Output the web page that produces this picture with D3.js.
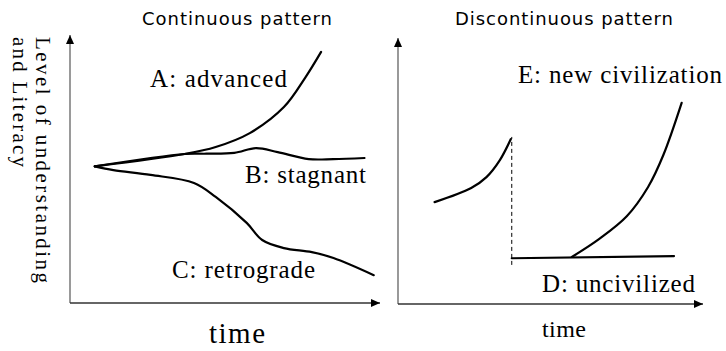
<!DOCTYPE html>
<html>
<head>
<meta charset="utf-8">
<script src="https://cdn.jsdelivr.net/npm/d3@7"></script>
<style>
	body { margin: 0; background: #fff; }
</style>
</head>
<body>
<svg id="chart" width="726" height="351"></svg>
<script>

// values: [time, level], both on a 0-100 scale
let advanced    = [[8, 51], [37, 55.6], [47, 58.2], [58, 63.4], [69, 73.1], [76, 84.3], [81, 93.7]];
let stagnant    = [[8, 51], [37, 55.6], [44, 55.7], [53, 56], [60, 57.8], [67, 56.3], [77, 53.7], [85, 53.7], [95, 54.1]];
let retrograde  = [[8, 51], [14, 49.6], [26, 47.8], [40, 44.8], [47, 39.6], [57, 29.9], [62, 23.5], [69, 20.5], [78, 19], [85, 16.8], [98, 10.4]];

let oldCivilization = [[12, 38.3], [24, 43.6], [29, 47.7], [33.4, 54.1], [37, 62]];
let uncivilized     = [[37.3, 17.2], [90.5, 18]];
let newCivilization = [[57, 17.7], [66, 24.5], [75, 33], [82, 44], [87, 56], [93, 75.6]];
let breakPoint      = [37.3, 14.7, 62.8];   // time, bottom, top of the dashed line

let panelTitles = ['Continuous pattern', 'Discontinuous pattern'];
let yLabelLines = ['Level of understanding', 'and Literacy'];
let xLabel = 'time';

let svg = d3.select('#chart');

let serif = '"Liberation Serif", "Times New Roman", serif';
let sans = '"DejaVu Sans", Verdana, sans-serif';

svg.append('defs').append('marker')
	.attr('id', 'arrow')
	.attr('viewBox', '0 0 9 8')
	.attr('refX', 9)
	.attr('refY', 4)
	.attr('markerWidth', 9)
	.attr('markerHeight', 8)
	.attr('markerUnits', 'userSpaceOnUse')
	.attr('orient', 'auto')
	.append('path')
	.attr('d', 'M0,0L9,4L0,8Z')
	.attr('fill', '#000');

// left panel
let xL = d3.scaleLinear().domain([0, 100]).range([70, 380]);
let yL = d3.scaleLinear().domain([0, 100]).range([303, 35]);

// right panel
let xR = d3.scaleLinear().domain([0, 100]).range([398, 703]);
let yR = d3.scaleLinear().domain([0, 100]).range([304, 38]);

function drawAxes(x, y)
{
	svg.append('line')
		.attr('x1', x(0)).attr('y1', y(0))
		.attr('x2', x(0)).attr('y2', y(100))
		.attr('stroke', '#808080')
		.attr('stroke-width', 1.6)
		.attr('marker-end', 'url(#arrow)');

	svg.append('line')
		.attr('x1', x(0)).attr('y1', y(0))
		.attr('x2', x(100)).attr('y2', y(0))
		.attr('stroke', '#333')
		.attr('stroke-width', 1.6)
		.attr('marker-end', 'url(#arrow)');
}

drawAxes(xL, yL);
drawAxes(xR, yR);

function drawCurve(data, x, y)
{
	let line = d3.line()
		.x(d => x(d[0]))
		.y(d => y(d[1]))
		.curve(d3.curveCatmullRom.alpha(0.5));

	svg.append('path')
		.datum(data)
		.attr('d', line)
		.attr('fill', 'none')
		.attr('stroke', '#000')
		.attr('stroke-width', 2.2)
		.attr('stroke-linecap', 'round');
}

drawCurve(advanced, xL, yL);
drawCurve(stagnant, xL, yL);
drawCurve(retrograde, xL, yL);
drawCurve(oldCivilization, xR, yR);
drawCurve(uncivilized, xR, yR);
drawCurve(newCivilization, xR, yR);

svg.append('line')
	.attr('x1', xR(breakPoint[0])).attr('y1', yR(breakPoint[1]))
	.attr('x2', xR(breakPoint[0])).attr('y2', yR(breakPoint[2]))
	.attr('stroke', '#000')
	.attr('stroke-width', 1)
	.attr('stroke-dasharray', '4,3');

// titles
let titles = [
	{ text: panelTitles[0], x: 237, y: 25, len: 190 },
	{ text: panelTitles[1], x: 564, y: 25, len: 218 }
];

svg.selectAll('text.title')
	.data(titles)
	.enter()
	.append('text')
	.attr('class', 'title')
	.attr('x', d => d.x)
	.attr('y', d => d.y)
	.attr('text-anchor', 'middle')
	.style('font-family', sans)
	.style('font-size', '18px')
	.attr('textLength', d => d.len)
	.attr('lengthAdjust', 'spacing')
	.text(d => d.text);

// curve labels
let labels = [
	{ text: 'A: advanced',         x: 150, y: 87,  len: 137, size: 25 },
	{ text: 'B: stagnant',         x: 245, y: 183, len: 121, size: 25 },
	{ text: 'C: retrograde',       x: 172, y: 278, len: 143, size: 25 },
	{ text: 'E: new civilization', x: 518, y: 83,  len: 204, size: 25 },
	{ text: 'D: uncivilized',      x: 542, y: 292, len: 153, size: 25 },
	{ text: xLabel,                x: 209, y: 343, len: 56,  size: 29 },
	{ text: xLabel,                x: 542, y: 337, len: 44,  size: 24 }
];

svg.selectAll('text.label')
	.data(labels)
	.enter()
	.append('text')
	.attr('class', 'label')
	.attr('x', d => d.x)
	.attr('y', d => d.y)
	.style('font-family', serif)
	.style('font-size', d => d.size + 'px')
	.attr('textLength', d => d.len)
	.attr('lengthAdjust', 'spacing')
	.text(d => d.text);

// rotated y label, reads top to bottom
let yLabel = [
	{ text: yLabelLines[0], x: 36, len: 246 },
	{ text: yLabelLines[1], x: 13, len: 130 }
];

svg.selectAll('text.ylabel')
	.data(yLabel)
	.enter()
	.append('text')
	.attr('class', 'ylabel')
	.attr('transform', d => `translate(${d.x}, 37) rotate(90)`)
	.style('font-family', serif)
	.style('font-size', '21px')
	.attr('textLength', d => d.len)
	.attr('lengthAdjust', 'spacing')
	.text(d => d.text);

</script>
</body>
</html>
